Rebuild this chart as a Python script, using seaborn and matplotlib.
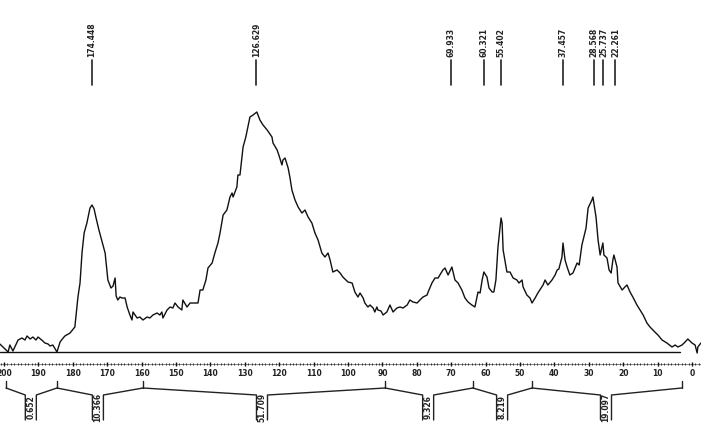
import matplotlib
matplotlib.use("Agg")
import matplotlib.pyplot as plt
import numpy as np
import pandas as pd
import seaborn as sns

# ---- spectrum trace (ppm, intensity above baseline) ----
ppm = [201.2, 200.0, 198.8, 198.3, 197.4, 195.9, 194.8, 193.9, 193.3, 192.4, 191.6, 190.7, 190.1,
       188.7, 188.1, 187.2, 186.6, 185.8, 184.6, 183.7, 182.8, 182.3, 180.8, 179.4, 178.5, 177.9,
       177.3, 176.7, 175.9, 175.0, 174.4, 173.8, 173.3, 172.4, 170.6, 169.8, 168.9, 168.3, 167.7,
       167.4, 166.9, 166.3, 165.7, 164.8, 164.2, 163.4, 162.8, 162.5, 161.3, 160.5, 159.6, 158.4,
       157.6, 156.7, 155.5, 154.7, 154.1, 153.8, 152.6, 151.7, 150.9, 150.3, 149.4, 148.3, 148.0,
       146.8, 145.9, 144.5, 143.6, 143.0, 142.2, 141.3, 140.7, 139.5, 138.7, 137.8, 137.2, 136.3,
       135.2, 134.3, 133.7, 133.4, 132.3, 132.0, 131.4, 130.5, 129.7, 128.5, 127.6, 126.5, 125.6,
       124.7, 123.5, 122.1, 121.8, 120.6, 120.1, 119.2, 118.9, 118.3, 117.4, 116.9, 116.3, 115.4,
       114.5, 113.4, 112.5, 111.6, 110.5, 109.6, 108.7, 107.6, 106.7, 105.8, 105.2, 104.4, 103.2,
       102.3, 101.5, 100.0, 98.8, 98.0, 97.1, 96.5, 95.6, 95.1, 94.2, 93.6, 92.7, 92.2, 91.6, 91.3,
       90.4, 89.8, 88.7, 87.8, 86.9, 85.8, 84.9, 84.0, 82.8, 82.0, 81.1, 79.9, 79.1, 78.2, 77.0,
       76.7, 75.6, 74.7, 73.8, 73.3, 72.4, 71.8, 70.9, 69.8, 68.9, 68.0, 66.9, 66.0, 65.1, 64.0,
       63.1, 62.2, 61.6, 61.0, 60.5, 59.6, 59.0, 58.1, 57.6, 57.0, 56.4, 55.5, 55.2, 54.9, 53.8,
       52.9, 52.0, 50.9, 50.3, 49.4, 49.1, 48.0, 47.1, 46.5, 45.6, 44.8, 43.3, 42.7, 41.9, 40.7,
       39.8, 39.2, 38.7, 37.8, 37.5, 36.9, 36.3, 35.5, 34.6, 33.4, 32.8, 32.0, 30.8, 30.2, 29.1,
       28.8, 27.9, 27.3, 26.7, 25.9, 25.6, 24.7, 24.1, 23.5, 23.0, 22.7, 21.8, 21.5, 20.3, 19.5,
       18.9, 18.0, 17.2, 16.0, 15.1, 14.2, 13.1, 12.2, 10.8, 9.9, 8.7, 7.3, 5.8, 4.9, 4.1, 2.9,
       2.0, 1.2, 0.0, -0.9, -1.5, -1.7, -2.6]
intensity = [8, 4, 0, 7, 1, 12, 14, 12, 16, 13, 15, 12, 15,
             11, 9, 8, 6, 7, 0, 10, 14, 16, 19, 25, 55, 69,
             100, 119, 129, 144, 147, 143, 135, 122, 99, 72, 64, 66, 74,
             56, 52, 55, 54, 54, 45, 37, 32, 40, 34, 35, 32, 35,
             34, 37, 39, 37, 40, 34, 42, 45, 44, 49, 45, 42, 52,
             45, 49, 49, 49, 62, 62, 72, 84, 89, 99, 109, 119, 137,
             142, 155, 159, 155, 165, 177, 177, 205, 215, 235, 237, 240, 232,
             227, 222, 215, 209, 202, 197, 187, 192, 194, 184, 175, 162, 152,
             145, 139, 142, 135, 129, 119, 112, 99, 95, 99, 92, 80, 82,
             79, 75, 70, 69, 60, 55, 59, 54, 49, 45, 47, 44, 40, 45, 42,
             41, 37, 40, 47, 40, 44, 45, 44, 47, 52, 50, 49, 52, 55, 57,
             60, 69, 74, 74, 77, 82, 84, 77, 85, 72, 69, 62, 54, 50, 47,
             45, 60, 59, 72, 80, 75, 64, 60, 60, 72, 105, 134, 129, 102, 80,
             80, 74, 72, 69, 72, 65, 57, 54, 49, 54, 59, 67, 72, 67, 72,
             77, 82, 83, 95, 109, 92, 85, 77, 79, 89, 87, 107, 124, 144, 152,
             155, 135, 112, 97, 109, 97, 94, 82, 79, 92, 97, 85, 69, 62, 65,
             67, 60, 55, 47, 42, 37, 29, 25, 20, 17, 12, 9, 5, 7, 5, 7,
             10, 13, 9, 7, -1, 5, 9]

# ---- peak picking labels ----
peak_ppm = [174.448, 126.629, 69.933, 60.321, 55.402, 37.457, 28.568, 25.737, 22.261]
peak_labels = ["174.448", "126.629", "69.933", "60.321", "55.402",
               "37.457", "28.568", "25.737", "22.261"]

# ---- integrals ----
integral_bounds = [199.4, 184.6, 159.6, 89.2, 63.7, 46.5, 3.0]
integral_label_ppm = [192.2, 172.7, 125.0, 76.7, 55.2, 25.0]
integral_values = ["0.652", "10.366", "51.709", "9.326", "8.219", "19.097"]

# ---- axis ticks ----
tick_values = list(range(200, -1, -10))

sns.set_style("white")
plt.rcParams["font.family"] = ["DejaVu Sans"]

fig = plt.figure(figsize=(7.01, 4.32), dpi=100)
ax = fig.add_axes([0, 0, 1, 1])
ax.set_xlim(201.16, -2.62)
ax.set_ylim(-80, 352)
ax.axis("off")

df = pd.DataFrame({"ppm": ppm, "intensity": intensity})
sns.lineplot(data=df, x="ppm", y="intensity", color="#111111", lw=1.0,
             sort=False, ax=ax, legend=False)

# baseline
ax.plot([201.2, 3.5], [0, 0], color="#111111", lw=1.0)

# ppm axis (dotted scale)
ax.plot([201.2, -2.6], [-11.5, -11.5], color="#777777", lw=0.6)
minor = np.arange(-2, 202, 1)
ax.vlines(minor, -10.5, -12.5, color="#333333", lw=0.8)
ax.vlines(tick_values, -10, -13.5, color="#111111", lw=1.0)
for t in tick_values:
    ax.text(t, -21, str(t), ha="center", va="center", fontsize=5.5,
            fontweight="bold", color="#222222")

# peak labels
for p, lab in zip(peak_ppm, peak_labels):
    ax.plot([p, p], [267, 292], color="#222222", lw=1.2)
    ax.text(p, 295, lab, rotation=90, ha="center", va="bottom", fontsize=5.5,
            fontweight="bold", color="#222222")

# integral brackets
w = 1.6
for b in integral_bounds:
    ax.plot([b, b], [-29, -36], color="#222222", lw=1.0)
for j, (c, val) in enumerate(zip(integral_label_ppm, integral_values)):
    left = integral_bounds[j]
    right = integral_bounds[j + 1]
    ax.plot([left, c + w, c + w], [-36, -43, -68], color="#222222", lw=1.0)
    ax.plot([right, c - w, c - w], [-36, -43, -68], color="#222222", lw=1.0)
    ax.text(c, -55, val, rotation=90, ha="center", va="center", fontsize=5.5,
            fontweight="bold", color="#222222")

fig.savefig("out.png", dpi=100)
